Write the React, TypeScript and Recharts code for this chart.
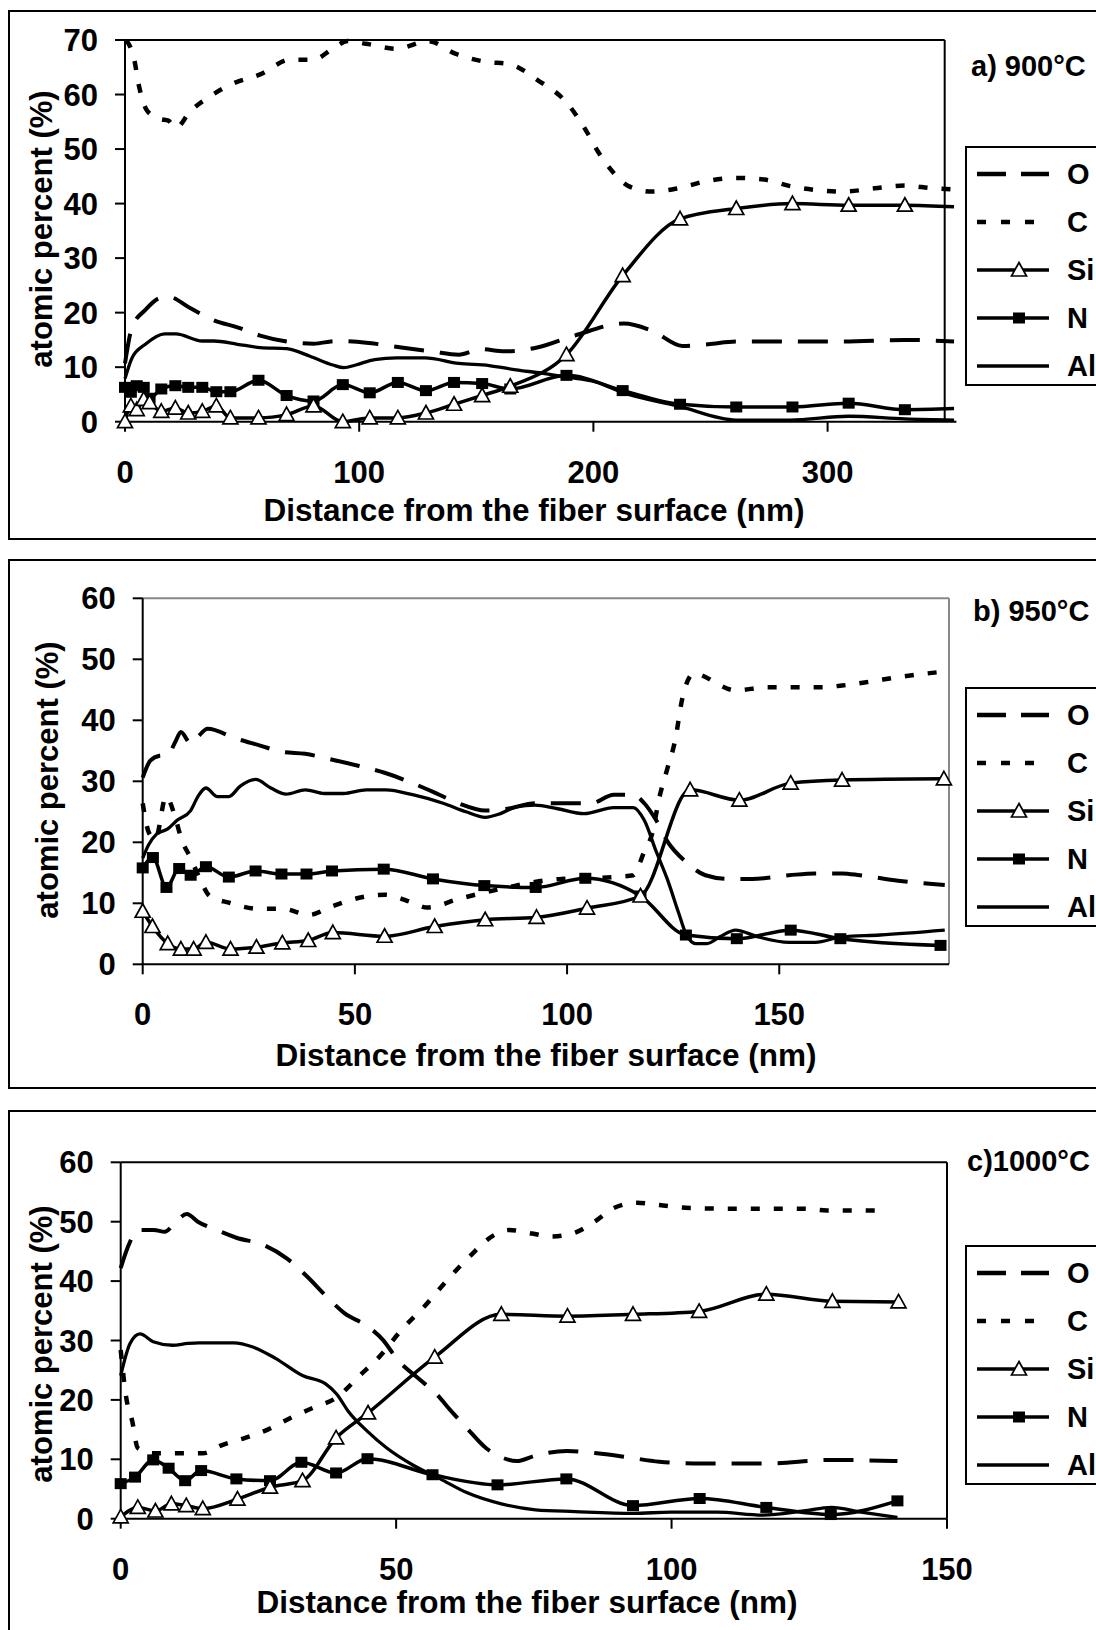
import React from "react";
import { LineChart, Line, XAxis, YAxis, ReferenceLine } from "recharts";

type Pt = [number, number];

// ---- a) 900°C ----
const aO: Pt[] = [[0,10.7],[3,17.3],[8.7,20.5],[15,22.7],[18.5,22.9],[28,20.8],[38,18.6],[48,17.3],[57.7,15.8],[69,14.7],[80.5,14.3],[90,14.8],[103,14.5],[118,13.6],[131,12.9],[142.5,12.3],[152,13.3],[162,12.9],[176,13.6],[192,15.8],[213,18],[225,16.7],[238,13.9],[249,14.2],[261,14.7],[283,14.7],[306,14.7],[333,15],[354,14.7]];
const aC: Pt[] = [[0.5,70],[3.9,66.5],[6,61.5],[9.5,57],[15,55.5],[18.5,55.2],[21.7,53.9],[28,57],[35,59.3],[46,62],[57.7,63.7],[70.7,66.4],[80.5,66.4],[88.7,68.4],[95,69.8],[103,69.3],[116,68.4],[129.5,69.8],[141,67.5],[154,66],[164,65.6],[176,62.7],[189,58.3],[197,53.3],[202,49.5],[208.5,45.7],[215,43.2],[225,42.2],[236,42.8],[248,44.1],[262,44.7],[273,44.4],[284,43.2],[297,42.4],[307,42.2],[320,42.8],[333,43.3],[345,42.8],[354,42.6]];
const aSi: Pt[] = [[0,0],[2.5,2.9],[5,2.2],[8,4.1],[10.5,3.5],[15.5,1.9],[21.5,2.5],[27,1.6],[33,1.9],[39,2.9],[45,0.7],[57,0.7],[69,1.3],[80.5,2.9],[93,0],[104.5,0.7],[116.5,0.7],[128.5,1.6],[140.5,3.2],[152.5,4.8],[164.5,6.5],[188.5,12.3],[212.5,26.8],[237,37.2],[261,39.1],[285,40],[309,39.7],[333,39.7],[354,39.4]];
const aN: Pt[] = [[0,6.3],[2.5,5.4],[5,6.6],[8,6.3],[10.5,4.3],[15.5,6],[21.5,6.6],[27,6.3],[33,6.3],[39,5.5],[45,5.5],[57,7.6],[69,4.8],[80.5,3.8],[93,6.8],[104.5,5.3],[116.5,7.2],[128.5,5.7],[140.5,7.2],[152.5,7],[164.5,6],[188.5,8.5],[212.5,5.7],[237,3.2],[261,2.7],[285,2.7],[309,3.4],[333,2.2],[354,2.4]];
const aAl: Pt[] = [[0,7.9],[3,11.7],[8.7,14.2],[17,16.1],[21.7,16.1],[33,14.8],[38,14.8],[48,14.2],[57.7,13.6],[69,13.4],[79,12],[88.7,10.4],[93.5,9.9],[98.5,10.4],[106.6,11.4],[116,11.7],[128,11.7],[142.5,10.7],[155.5,10.3],[167,9.5],[178,8.9],[188,8.2],[201,7.3],[212,5.4],[236,2.9],[261,0.3],[284,0.3],[309,1],[333,0.5],[354,0.3]];

// ---- b) 950°C ----
const bO: Pt[] = [[0,30.6],[1.8,33.4],[4,34.2],[5.9,34.3],[7.7,36.5],[9,38.1],[11.3,36.2],[13,37.3],[15.3,38.6],[22,37],[27.5,35.9],[33,34.8],[38.3,34.5],[43.7,33.7],[51,32.5],[57,31.4],[63.6,29.7],[69.9,27.8],[74.4,26.4],[80.7,25.2],[86,25.5],[92.4,26.4],[100,26.4],[105.7,26.4],[111,27.8],[115.6,27.8],[118.2,26.4],[121,23.6],[123.6,20.2],[128,16.8],[132.6,14.6],[138,14],[143.6,14],[152.3,14.6],[158.5,14.9],[164.8,14.9],[169,14.6],[178,13.7],[189,13]];
const bC: Pt[] = [[0,26.4],[1.5,21.5],[3,20.5],[5.5,27.5],[7.7,24],[9,20.8],[11.3,17.4],[13.5,14],[15.8,11.2],[20.3,10.1],[27.5,9.1],[33,9.1],[39.2,8.1],[44.6,9.5],[51,10.9],[57,11.4],[63.6,10.1],[67,9.3],[74.4,10.7],[80.7,11.8],[86,12.6],[92.4,13.5],[98.7,14],[105,14.1],[111,14.3],[115.6,14.6],[118.2,18.5],[120,21.3],[121.8,27.5],[123.6,32],[125.4,36.5],[127.2,43.7],[129.9,47.7],[132.6,47.1],[135.3,46],[139.7,44.9],[146.9,45.4],[154,45.4],[160.3,45.4],[164.8,45.7],[171,46.3],[178.2,47.1],[189,48]];
const bSi: Pt[] = [[0,8.7],[2.3,6.2],[5.9,3.4],[9,2.5],[12,2.5],[14.9,3.6],[20.7,2.5],[26.8,2.8],[32.9,3.5],[39,3.9],[44.8,5.2],[57,4.6],[68.8,6.2],[80.7,7.3],[92.8,7.7],[104.7,9.2],[117.3,11.2],[129,28.6],[140.6,26.9],[152.7,29.7],[164.8,30.2],[188.8,30.4]];
const bN: Pt[] = [[0,15.8],[2.4,17.5],[5.6,12.6],[8.6,15.7],[11.3,14.6],[14.9,16],[20.3,14.3],[26.6,15.3],[32.7,14.8],[38.6,14.8],[44.6,15.3],[56.8,15.6],[68.4,14],[80.5,12.9],[92.6,12.6],[104.3,14.1],[117.3,11.2],[128,4.8],[140,4.2],[152.7,5.6],[164.4,4.2],[188,3.1]];
const bAl: Pt[] = [[0,17.4],[1.4,19.6],[3.2,21.3],[5.9,22.2],[8.1,23.6],[11.3,25.2],[13,27.5],[14.9,28.9],[17.6,27.5],[20.3,27.5],[23,29.2],[26.6,30.3],[30.2,28.9],[33.8,27.9],[38.3,28.6],[42.8,28],[47.3,28],[52.7,28.6],[57.3,28.6],[63.6,27.8],[70.8,26.4],[76.2,25],[80.7,24.1],[84.3,24.7],[88,25.8],[92.4,26.1],[97.8,25.5],[104,24.7],[111,25.7],[115.6,25.7],[118.2,23.6],[121,18.5],[123.6,14],[126.3,8.4],[128,5],[130.3,3.4],[133,3.4],[136,4.5],[139.7,5.6],[145,4.5],[152.3,3.6],[158.5,3.6],[164.8,4.5],[173.7,4.8],[189,5.6]];

// ---- c) 1000°C ----
const cO: Pt[] = [[0,42.2],[1.2,45.5],[3.2,48.6],[6,48.6],[8,48.3],[10,50],[12,51.3],[14,50],[17.4,48.6],[21,47.3],[25.9,46.1],[30.2,43.8],[33.7,40.9],[37.9,36.9],[40.6,34.6],[44.8,32.4],[47.6,30.1],[50.3,26.7],[53.8,23.8],[57.3,21],[60,18.1],[62.8,15.3],[66.3,11.9],[69,10.4],[71.9,9.7],[75.5,10.7],[81,11.4],[86.5,11],[91.6,10.4],[97.8,9.6],[105.4,9.3],[117.2,9.3],[128.9,9.9],[141,9.7]];
const cC: Pt[] = [[0,28.4],[1,20.4],[2.1,16.4],[3.1,11.9],[5.9,11],[9.4,11],[14.9,11],[18.4,12.4],[22.6,13.6],[26.7,15],[30.9,17],[35,18.7],[39.2,20.4],[43.4,24.1],[46.9,27.2],[51,31.8],[55.2,35.8],[59.4,40.3],[63.5,44.3],[67.7,47.7],[70.5,48.6],[74.7,48],[78.1,47.5],[82,48],[86,50],[89.5,52.3],[93.7,53.2],[97.8,52.8],[103.3,52.3],[110.2,52.2],[117.1,52.2],[124,52.2],[128.2,51.9],[134.4,51.9],[139.2,51.9]];
const cSi: Pt[] = [[0,0.3],[3.1,1.9],[6.3,1.3],[9.2,2.5],[11.9,2.2],[14.9,1.7],[21.2,3.3],[27.1,5.3],[33,6.4],[39.1,13.6],[44.9,17.8],[57,27.2],[69.1,34.4],[81.1,34.1],[93,34.4],[105,34.9],[117.2,37.8],[129.2,36.6],[141.2,36.5]];
const cN: Pt[] = [[0,5.9],[2.6,7],[5.9,9.9],[8.7,8.5],[11.7,6.4],[14.6,8.1],[21,6.7],[27.1,6.4],[32.8,9.5],[39.1,7.7],[44.8,10.1],[56.6,7.4],[68.4,5.7],[80.9,6.7],[93,2.2],[105.1,3.4],[117.2,1.9],[128.9,0.7],[141,3]];
const cAl: Pt[] = [[0,24.1],[1.7,29.5],[3.5,31.1],[5.9,29.8],[9.4,29.2],[12.2,29.5],[14.2,29.6],[20.5,29.6],[24,28.9],[28.1,27],[33,24.1],[37.2,22.7],[39.2,21],[41.3,18.1],[44.8,14.7],[48.3,11.9],[53.1,9],[58,6.7],[62.8,4.4],[69.1,2.5],[75.3,1.5],[82.5,1.2],[93,0.9],[99.9,1.1],[108.2,1.1],[116.5,0.6],[124,1.3],[129,1.9],[134.4,1.1],[141,0.2]];

const legendNames = ["O", "C", "Si", "N", "Al"];
const ticksA = [0, 10, 20, 30, 40, 50, 60, 70];
const ticksBC = [0, 10, 20, 30, 40, 50, 60];

const FONT = '"Liberation Sans", Arial, Helvetica, sans-serif';
const O_DASH = "30 16";
const C_DASH = "9 14";

const rows = (pts: Pt[]) => pts.map(([x, y]) => ({ x, y }));

const triDot = (maxX: number) => (p: any) => {
  const { cx, cy, payload, index } = p;
  if (cx == null || cy == null || payload.x > maxX) return <g key={"t" + index} />;
  return (
    <polygon
      key={"t" + index}
      points={`${cx},${cy - 7.5} ${cx + 7.5},${cy + 6} ${cx - 7.5},${cy + 6}`}
      fill="#fff"
      stroke="#000"
      strokeWidth={1.7}
    />
  );
};

const sqDot = (maxX: number) => (p: any) => {
  const { cx, cy, payload, index } = p;
  if (cx == null || cy == null || payload.x > maxX) return <g key={"s" + index} />;
  return <rect key={"s" + index} x={cx - 6} y={cy - 5.5} width={12} height={11} fill="#000" />;
};

// page coordinates (root box is fixed at 0,0)
const abs = (x: number, y: number): React.CSSProperties => ({
  position: "absolute",
  left: x,
  top: y,
});

function Legend({ top }: { top: number }) {
  return (
    <div
      style={{
        ...abs(965, top),
        width: 200,
        height: 240,
        border: "2px solid #000",
        boxSizing: "border-box",
        background: "#fff",
      }}
    >
      {legendNames.map((name, i) => {
        const cy = 28 + i * 48 - 2;
        return (
          <div key={name}>
            <svg style={{ position: "absolute", left: 10, top: cy - 10 }} width={76} height={20}>
              <line
                x1={0}
                x2={72}
                y1={10}
                y2={10}
                stroke="#000"
                strokeWidth={i < 2 ? 4.5 : 3.5}
                strokeDasharray={i === 0 ? "29 15" : i === 1 ? "9 15" : undefined}
              />
              {i === 2 && <polygon points="42,2.5 49.5,16 34.5,16" fill="#fff" stroke="#000" strokeWidth={1.7} />}
              {i === 3 && <rect x={36} y={4.5} width={12} height={11} fill="#000" />}
            </svg>
            <div
              style={{
                position: "absolute",
                left: 100,
                top: cy,
                transform: "translateY(-50%)",
                fontSize: 29,
                fontWeight: "bold",
                lineHeight: 1,
              }}
            >
              {name}
            </div>
          </div>
        );
      })}
    </div>
  );
}

type PanelProps = {
  boxTop: number;
  margin: { top: number; right: number; bottom: number; left: number };
  xDomain: [number, number];
  xTicks: number[];
  frameX: number;
  yMax: number;
  yTicks: number[];
  frameColor: string;
  O: Pt[];
  C: Pt[];
  Si: Pt[];
  N: Pt[];
  Al: Pt[];
  title: string;
  titlePos: [number, number];
  xTitlePos: [number, number];
  yTitlePos: [number, number];
  legendTop: number;
};

function Panel(p: PanelProps) {
  const tickStyle = { fontSize: 31, fontWeight: "bold", fill: "#000", fontFamily: FONT } as any;
  return (
    <>
      <div
        style={{
          ...abs(8, p.boxTop),
          width: 1120,
          height: 530,
          border: "2px solid #000",
          boxSizing: "border-box",
        }}
      />
      <div style={{ ...abs(8, p.boxTop) }}>
        <LineChart width={1088} height={528} margin={p.margin}>
          <XAxis
            type="number"
            dataKey="x"
            domain={p.xDomain}
            ticks={p.xTicks}
            interval={0}
            height={60}
            tickSize={10}
            tickMargin={29}
            tick={tickStyle}
            axisLine={{ stroke: "#000", strokeWidth: 2 }}
            tickLine={{ stroke: "#000", strokeWidth: 2 }}
          />
          <YAxis
            type="number"
            domain={[0, p.yMax]}
            ticks={p.yTicks}
            interval={0}
            width={100}
            tickSize={10}
            tickMargin={17}
            tick={tickStyle}
            axisLine={{ stroke: "#000", strokeWidth: 2 }}
            tickLine={{ stroke: "#000", strokeWidth: 2 }}
          />
          <ReferenceLine
            segment={[{ x: 0, y: p.yMax }, { x: p.frameX, y: p.yMax }]}
            stroke={p.frameColor}
            strokeWidth={2}
            ifOverflow="visible"
          />
          <ReferenceLine
            segment={[{ x: p.frameX, y: 0 }, { x: p.frameX, y: p.yMax }]}
            stroke={p.frameColor}
            strokeWidth={2}
            ifOverflow="visible"
          />
          <Line data={rows(p.Al)} dataKey="y" type="monotone" stroke="#000" strokeWidth={3.3} dot={false} activeDot={false} isAnimationActive={false} />
          <Line data={rows(p.O)} dataKey="y" type="monotone" stroke="#000" strokeWidth={4} strokeDasharray={O_DASH} dot={false} activeDot={false} isAnimationActive={false} />
          <Line data={rows(p.C)} dataKey="y" type="monotone" stroke="#000" strokeWidth={4.5} strokeDasharray={C_DASH} dot={false} activeDot={false} isAnimationActive={false} />
          <Line data={rows(p.N)} dataKey="y" type="monotone" stroke="#000" strokeWidth={3.5} dot={sqDot(p.frameX)} activeDot={false} isAnimationActive={false} />
          <Line data={rows(p.Si)} dataKey="y" type="monotone" stroke="#000" strokeWidth={3.5} dot={triDot(p.frameX)} activeDot={false} isAnimationActive={false} />
        </LineChart>
      </div>
      <div
        style={{
          ...abs(p.titlePos[0], p.titlePos[1]),
          transform: "translateY(-50%)",
          fontSize: 29,
          fontWeight: "bold",
          lineHeight: 1,
          whiteSpace: "nowrap",
        }}
      >
        {p.title}
      </div>
      <div
        style={{
          ...abs(p.xTitlePos[0], p.xTitlePos[1]),
          transform: "translate(-50%, -50%)",
          fontSize: 31.5,
          fontWeight: "bold",
          lineHeight: 1,
          whiteSpace: "nowrap",
        }}
      >
        Distance from the fiber surface (nm)
      </div>
      <div
        style={{
          ...abs(p.yTitlePos[0], p.yTitlePos[1]),
          transform: "translate(-50%, -50%) rotate(-90deg)",
          fontSize: 31,
          fontWeight: "bold",
          lineHeight: 1,
          whiteSpace: "nowrap",
        }}
      >
        atomic percent (%)
      </div>
      <Legend top={p.legendTop} />
    </>
  );
}

export default function App() {
  return (
    <div
      style={{
        position: "fixed",
        left: 0,
        top: 0,
        width: 1096,
        height: 1630,
        overflow: "hidden",
        fontFamily: FONT,
        color: "#000",
        background: "#fff",
      }}
    >
      <Panel
        boxTop={10}
        margin={{ top: 30, right: 139.6, bottom: 56.3, left: 17 }}
        xDomain={[0, 355]}
        xTicks={[0, 100, 200, 300]}
        frameX={350}
        yMax={70}
        yTicks={ticksA}
        frameColor="#000"
        O={aO}
        C={aC}
        Si={aSi}
        N={aN}
        Al={aAl}
        title="a) 900°C"
        titlePos={[971, 66]}
        xTitlePos={[534, 511]}
        yTitlePos={[41, 229]}
        legendTop={146}
      />
      <Panel
        boxTop={559}
        margin={{ top: 39.3, right: 147, bottom: 62.7, left: 34.7 }}
        xDomain={[0, 190]}
        xTicks={[0, 50, 100, 150]}
        frameX={190}
        yMax={60}
        yTicks={ticksBC}
        frameColor="#888"
        O={bO}
        C={bC}
        Si={bSi}
        N={bN}
        Al={bAl}
        title="b) 950°C"
        titlePos={[973, 611]}
        xTitlePos={[546, 1056]}
        yTitlePos={[47, 780]}
        legendTop={687}
      />
      <Panel
        boxTop={1110}
        margin={{ top: 52.3, right: 149, bottom: 59.3, left: 12.7 }}
        xDomain={[0, 150]}
        xTicks={[0, 50, 100, 150]}
        frameX={150}
        yMax={60}
        yTicks={ticksBC}
        frameColor="#000"
        O={cO}
        C={cC}
        Si={cSi}
        N={cN}
        Al={cAl}
        title="c)1000°C"
        titlePos={[967, 1161]}
        xTitlePos={[527, 1603]}
        yTitlePos={[41, 1344]}
        legendTop={1245}
      />
    </div>
  );
}
